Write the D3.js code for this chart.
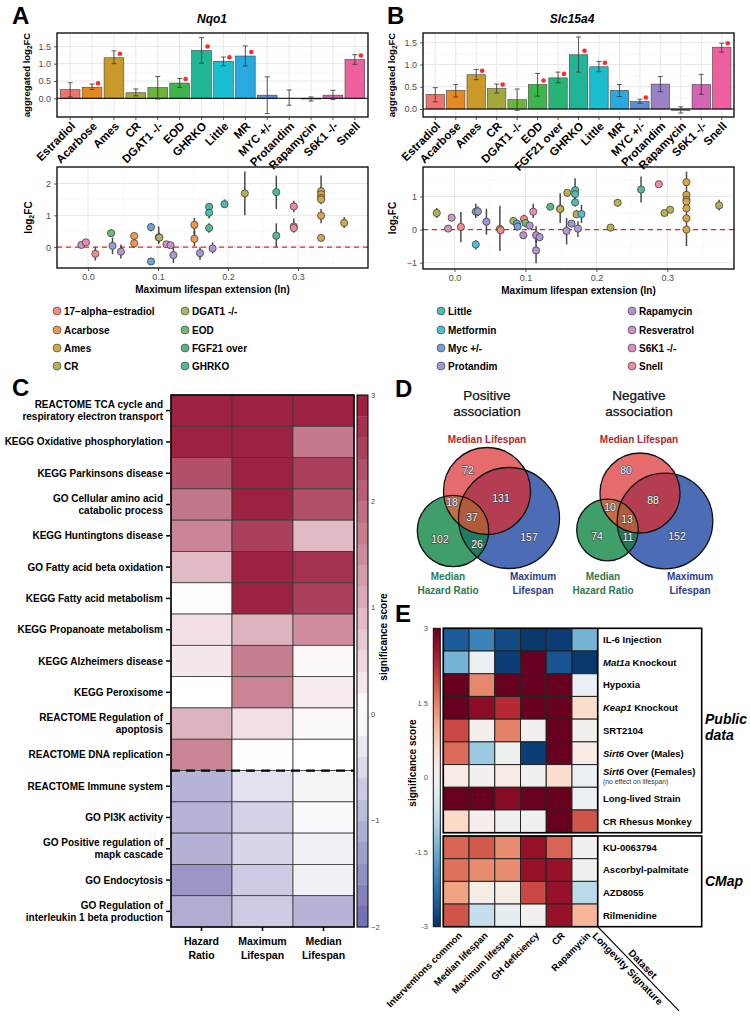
<!DOCTYPE html>
<html><head><meta charset="utf-8">
<script src="https://cdn.jsdelivr.net/npm/d3@7"></script>
<style>
body{margin:0;background:#fff}
svg{display:block}
text{font-family:"Liberation Sans",Arial,Helvetica,sans-serif}
</style>
</head><body>
<svg id="fig" width="750" height="1019"></svg>
<script>
// ================= DATA =================
// Panel A (Nqo1) bar chart
const barCatsA = ["Estradiol","Acarbose","Ames","CR","DGAT1 -/-","EOD","GHRKO","Little","MR","MYC +/-","Protandim","Rapamycin","S6K1 -/-","Snell"];
const barValA  = [0.25,0.32,1.17,0.16,0.31,0.44,1.38,1.07,1.22,0.09,0.00,-0.02,0.09,1.12];
const barLoA   = [0.04,0.25,1.00,0.07,-0.02,0.31,1.01,0.94,0.93,-0.44,-0.20,-0.08,-0.04,0.98];
const barHiA   = [0.45,0.41,1.37,0.27,0.63,0.57,1.75,1.19,1.51,0.62,0.24,0.04,0.23,1.26];
const barSigA  = [0,1,1,0,0,1,1,1,1,0,0,0,0,1];
// Panel B (Slc15a4) bar chart
const barCatsB = ["Estradiol","Acarbose","Ames","CR","DGAT1 -/-","EOD","FGF21 over","GHRKO","Little","MR","MYC +/-","Protandim","Rapamycin","S6K1 -/-","Snell"];
const barValB  = [0.33,0.42,0.77,0.46,0.21,0.55,0.70,1.22,0.95,0.42,0.17,0.56,-0.03,0.55,1.39];
const barLoB   = [0.16,0.27,0.66,0.36,-0.03,0.29,0.59,0.83,0.84,0.28,0.13,0.39,-0.09,0.33,1.28];
const barHiB   = [0.48,0.55,0.89,0.56,0.45,0.80,0.83,1.62,1.07,0.55,0.22,0.73,0.05,0.78,1.48];
const barSigB  = [0,0,1,1,0,1,1,1,1,0,1,0,0,0,1];
const barTicks = [0,0.5,1.0,1.5];

// Panel A scatter (Nqo1)
const scAx  = [-0.0095,-0.003,0.0105,0.033,0.035,0.047,0.066,0.066,0.09,0.09,0.101,0.102,0.112,0.118,0.122,0.152,0.152,0.16,0.178,0.173,0.173,0.173,0.195,0.224,0.269,0.269,0.294,0.294,0.294,0.333,0.333,0.333,0.333,0.333,0.333,0.366];
const scAy  = [0.07,0.15,-0.21,0.44,0.04,-0.14,0.35,0.12,0.63,-0.45,0.31,0.30,0.09,0.06,-0.25,0.70,0.26,-0.19,-0.04,1.27,1.08,0.60,1.35,1.69,1.73,0.36,1.28,0.65,0.60,1.76,1.66,1.55,1.50,0.99,0.29,0.76];
const scAlo = [0.0,0.08,-0.42,0.35,-0.22,-0.36,0.25,-0.02,0.50,-0.50,0.10,0.15,-0.02,-0.02,-0.50,0.40,0.03,-0.40,-0.20,1.15,0.90,0.45,1.25,1.00,1.20,0.00,1.10,0.45,0.50,1.50,1.45,1.40,1.35,0.75,0.20,0.60];
const scAhi = [0.13,0.20,0.00,0.55,0.30,0.08,0.45,0.25,0.76,-0.40,0.65,0.45,0.18,0.14,0.00,0.92,0.50,0.00,0.15,1.35,1.30,0.75,1.50,2.38,2.25,0.75,1.46,0.90,0.70,2.25,1.90,1.80,1.70,1.20,0.38,0.95];
const scAg  = ["Resveratrol","S6K1 -/-","17-alpha-estradiol","EOD","Protandim","Rapamycin","Acarbose","Acarbose","Myc +/-","Myc +/-","DGAT1 -/-","CR","S6K1 -/-","Rapamycin","Rapamycin","Acarbose","Acarbose","Protandim","Rapamycin","GHRKO","Little","GHRKO","Little","CR","GHRKO","GHRKO","Snell","Snell","Snell","Ames","Ames","Ames","Ames","Ames","Ames","Ames"];
// Panel B scatter (Slc15a4)
const scBx  = [-0.025,-0.009,-0.004,0.009,0.030,0.033,0.030,0.045,0.064,0.065,0.083,0.088,0.089,0.098,0.100,0.097,0.106,0.111,0.115,0.115,0.120,0.135,0.149,0.149,0.158,0.159,0.165,0.170,0.170,0.170,0.172,0.174,0.179,0.220,0.230,0.263,0.288,0.296,0.304,0.327,0.327,0.327,0.327,0.327,0.327,0.327,0.373];
const scBy  = [0.50,0.03,0.36,0.08,0.54,0.55,-0.45,0.24,0.02,-0.02,0.26,0.18,0.09,0.32,0.20,-0.17,0.12,0.54,-0.17,-0.63,-0.23,0.69,0.63,0.62,-0.04,1.11,0.18,1.19,1.07,0.82,0.46,0.03,0.47,0.06,0.81,1.21,1.37,0.50,0.60,1.43,1.05,0.90,0.84,0.64,0.34,0.00,0.73];
const scBlo = [0.35,-0.02,0.30,-0.38,0.35,0.40,-0.60,-0.15,-0.65,-0.10,0.15,0.10,0.03,0.15,0.10,-0.25,0.05,0.35,-0.40,-1.02,-0.35,0.62,0.20,0.50,-0.45,1.00,0.10,0.80,0.95,0.70,0.35,-0.22,0.20,-0.05,0.70,0.82,1.30,0.45,0.55,-0.50,0.95,0.80,0.75,0.55,0.25,-0.10,0.58];
const scBhi = [0.65,0.08,0.42,0.53,0.78,0.70,-0.32,0.63,0.72,0.05,0.38,0.26,0.15,0.45,0.30,-0.10,0.18,0.78,0.10,-0.30,-0.10,0.76,1.10,0.75,0.35,1.20,0.25,1.55,1.20,0.95,0.60,0.25,0.75,0.15,0.92,1.60,1.44,0.55,0.66,1.75,1.15,1.00,0.95,0.75,0.45,0.10,0.90];
const scBg  = ["CR","Resveratrol","Resveratrol","17-alpha-estradiol","EOD","Protandim","Metformin","Protandim","CR","17-alpha-estradiol","DGAT1 -/-","Myc +/-","Myc +/-","17-alpha-estradiol","EOD","Rapamycin","Rapamycin","S6K1 -/-","Rapamycin","Rapamycin","Rapamycin","FGF21 over","Acarbose","CR","Rapamycin","CR","Protandim","Little","Little","Little","CR","Rapamycin","Metformin","CR","CR","GHRKO","Snell","CR","CR","Ames","Ames","Ames","Ames","Ames","Ames","Ames","CR"];

// Legend groups
const legendGroups = ["17-alpha-estradiol","Acarbose","Ames","CR","DGAT1 -/-","EOD","FGF21 over","GHRKO","Little","Metformin","Myc +/-","Protandim","Rapamycin","Resveratrol","S6K1 -/-","Snell"];
const legendLabels = ["17\u2212alpha\u2212estradiol","Acarbose","Ames","CR","DGAT1 -/-","EOD","FGF21 over","GHRKO","Little","Metformin","Myc +/-","Protandim","Rapamycin","Resveratrol","S6K1 -/-","Snell"];
const groupColors  = ["#F08A84","#EB9A54","#D6A64C","#B8B052","#A2BB62","#6DBA72","#58B883","#52BA9C","#50BCB4","#52BDD2","#6FA3DA","#9C9AD6","#B196CF","#CB95C6","#E28BB8","#EE8BA0"];
const barColorMap = {"Estradiol":"#F0736F","Acarbose":"#E8891F","Ames":"#C99A2A","CR":"#A2A83B","DGAT1 -/-":"#6DB33F","EOD":"#3DB54A","FGF21 over":"#27B477","GHRKO":"#20B596","Little":"#1BBDD0","MR":"#2AA9E0","MYC +/-":"#5F8ED6","Protandim":"#9B82C4","Rapamycin":"#A27DC0","S6K1 -/-":"#D564B4","Snell":"#EE5FA0"};

// Panel C heatmap
const cRows = ["REACTOME TCA cycle and\nrespiratory electron transport","KEGG Oxidative phosphorylation","KEGG Parkinsons disease","GO Cellular amino acid\ncatabolic process","KEGG Huntingtons disease","GO Fatty acid beta oxidation","KEGG Fatty acid metabolism","KEGG Propanoate metabolism","KEGG Alzheimers disease","KEGG Peroxisome","REACTOME Regulation of\napoptosis","REACTOME DNA replication","REACTOME Immune system","GO PI3K activity","GO Positive regulation of\nmapk cascade","GO Endocytosis","GO Regulation of\ninterleukin 1 beta production"];
const cCols = ["Hazard\nRatio","Maximum\nLifespan","Median\nLifespan"];
const cHazard = [2.9,2.9,2.3,1.8,1.6,0.9,0.02,0.4,0.3,0.0,1.0,1.6,-1.0,-1.0,-1.05,-1.4,-1.1];
const cMaxLs  = [2.9,2.9,2.9,2.9,2.5,2.9,2.9,1.0,1.7,1.6,0.4,0.02,-0.4,-0.6,-0.55,-0.7,-0.7];
const cMedLs  = [2.9,1.75,2.5,2.3,0.9,2.7,2.5,1.5,0.1,0.25,0.1,0.0,-0.15,-0.05,-0.2,-0.2,-1.0];
const cTicks = [3,2,1,0,-1,-2];

// Panel D Venn counts
const vennSets = ["Median Lifespan","Median\nHazard Ratio","Maximum\nLifespan"];
const vennPos = {onlyMed:72, onlyHaz:102, onlyMax:157, medHaz:18, medMax:131, hazMax:26, all:37};
const vennNeg = {onlyMed:80, onlyHaz:74, onlyMax:152, medHaz:10, medMax:88, hazMax:11, all:13};

// Panel E heatmap
const eRows = ["IL-6 Injection","Mat1a Knockout","Hypoxia","Keap1 Knockout","SRT2104","Sirt6 Over (Males)","Sirt6 Over (Females)","Long-lived Strain","CR Rhesus Monkey","KU-0063794","Ascorbyl-palmitate","AZD8055","Rilmenidine"];
const eCols = ["Interventions common","Median lifespan","Maximum lifespan","GH deficiency","CR","Rapamycin"];
const eInterv = [-2.5,-1.4,3,3,2.0,1.7,0.2,3,0.55,1.75,1.65,1.2,1.9];
const eMedian = [-2.0,-0.15,1.45,2.7,0.02,-1.1,0.0,3,0.1,1.85,1.4,0.15,-0.7];
const eMaximum= [-2.7,-2.85,3,2.3,1.5,-0.08,0.2,2.75,-0.07,1.4,1.4,0.15,-0.25];
const eGH     = [-2.9,3,3,3,0.03,-2.85,-0.05,3,-0.07,2.6,2.6,2.0,0.0];
const eCR     = [-2.85,-2.6,3,3,3,3,0.5,3,3,1.75,2.6,2.6,2.6];
const eRapa   = [-1.4,-2.9,-0.2,0.5,0.02,0.2,-0.2,-0.2,1.9,-0.03,-0.05,-0.8,1.0];
const eTicks = [3,1.5,0,-1.5,-3];

// ================= DRAWING =================
const svg = d3.select("#fig");
svg.append("rect").attr("width",750).attr("height",1019).attr("fill","#fff");
const defs = svg.append("defs");
const gcol = d3.scaleOrdinal().domain(legendGroups).range(groupColors);

function label(t,x,y,size,opts={}){
  const e = svg.append("text").attr("x",x).attr("y",y).attr("font-size",size)
    .attr("font-weight",opts.weight||"bold").attr("text-anchor",opts.anchor||"start")
    .attr("fill",opts.fill||"#000").text(t);
  if(opts.italic) e.attr("font-style","italic");
  return e;
}
// panel letters
label("A",12,24,24); label("B",387,24,24); label("C",12,396,24); label("D",395,397,24); label("E",395,622,24);

function styleAxis(a){
  a.attr("font-family",null).attr("font-size",null);
  a.select(".domain").remove();
  a.selectAll(".tick line").attr("stroke","#333").attr("stroke-width",0.8);
  a.selectAll(".tick text").attr("fill","#4D4D4D").attr("font-size",9);
}

function barPanel(o){
  const x = d3.scalePoint().domain(o.cats).range([o.x0,o.x1]).padding(0.6);
  const step = x.step();
  const y = d3.scaleLinear().domain(o.ydom).range([o.y1,o.y0]);
  const g = svg.append("g");
  const minor = [-0.25,0.25,0.75,1.25,1.75].filter(v=>v>o.ydom[0]&&v<o.ydom[1]);
  g.selectAll(".mn").data(minor).join("line").attr("x1",o.x0).attr("x2",o.x1).attr("y1",d=>y(d)).attr("y2",d=>y(d)).attr("stroke","#F3F3F3").attr("stroke-width",0.6);
  g.selectAll(".mj").data(barTicks).join("line").attr("x1",o.x0).attr("x2",o.x1).attr("y1",d=>y(d)).attr("y2",d=>y(d)).attr("stroke","#E8E8E8").attr("stroke-width",1);
  g.selectAll(".vx").data(o.cats).join("line").attr("x1",d=>x(d)).attr("x2",d=>x(d)).attr("y1",o.y0).attr("y2",o.y1).attr("stroke","#E8E8E8").attr("stroke-width",1);
  g.selectAll(".bar").data(o.cats).join("rect")
    .attr("x",d=>x(d)-0.45*step).attr("width",0.9*step)
    .attr("y",(d,i)=>y(Math.max(0,o.vals[i]))).attr("height",(d,i)=>Math.abs(y(o.vals[i])-y(0)))
    .attr("fill",d=>barColorMap[d]).attr("stroke","#444").attr("stroke-width",0.6);
  g.append("line").attr("x1",o.x0).attr("x2",o.x1).attr("y1",y(0)).attr("y2",y(0)).attr("stroke","#000").attr("stroke-width",1);
  o.cats.forEach((c,i)=>{
    const cx=x(c);
    g.append("line").attr("x1",cx).attr("x2",cx).attr("y1",y(o.lo[i])).attr("y2",y(o.hi[i])).attr("stroke","#333").attr("stroke-width",0.8);
    [o.lo[i],o.hi[i]].forEach(v=>g.append("line").attr("x1",cx-2.5).attr("x2",cx+2.5).attr("y1",y(v)).attr("y2",y(v)).attr("stroke","#333").attr("stroke-width",0.8));
    if(o.sig[i]) g.append("circle").attr("cx",cx+6).attr("cy",y(o.vals[i])-4).attr("r",2.3).attr("fill","#FF2A2A");
  });
  g.append("rect").attr("x",o.x0).attr("y",o.y0).attr("width",o.x1-o.x0).attr("height",o.y1-o.y0).attr("fill","none").attr("stroke","#000").attr("stroke-width",1.3);
  const ay = g.append("g").attr("transform",`translate(${o.x0},0)`).call(d3.axisLeft(y).tickValues(barTicks).tickFormat(d3.format(".1f")).tickSize(3));
  styleAxis(ay);
  o.cats.forEach(c=>{
    g.append("line").attr("x1",x(c)).attr("x2",x(c)).attr("y1",o.y1).attr("y2",o.y1+3).attr("stroke","#333").attr("stroke-width",0.8);
    g.append("text").attr("transform",`translate(${x(c)+3},${o.y1+7}) rotate(-45)`).attr("text-anchor","end").attr("dy","0.35em")
      .attr("font-size",11.5).attr("font-weight","bold").text(c);
  });
  g.append("text").attr("transform",`translate(${o.ytx},${(o.y0+o.y1)/2}) rotate(-90)`).attr("text-anchor","middle")
    .attr("font-size",9.5).attr("font-weight","bold").html("aggregated log<tspan font-size='6.5' dy='2'>2</tspan><tspan dy='-2'>FC</tspan>");
  g.append("text").attr("x",o.titleX).attr("y",23).attr("text-anchor","middle").attr("font-size",12).attr("font-weight","bold").attr("font-style","italic").text(o.title);
}

barPanel({cats:barCatsA,vals:barValA,lo:barLoA,hi:barHiA,sig:barSigA,x0:57,x1:368,y0:33,y1:117,ydom:[-0.54,1.885],ytx:30,title:"Nqo1",titleX:212});
barPanel({cats:barCatsB,vals:barValB,lo:barLoB,hi:barHiB,sig:barSigB,x0:423,x1:734,y0:33,y1:117,ydom:[-0.18,1.71],ytx:395,title:"Slc15a4",titleX:572});

function scatterPanel(o){
  const x = d3.scaleLinear().domain(o.xdom).range([o.x0,o.x1]);
  const y = d3.scaleLinear().domain(o.ydom).range([o.y1,o.y0]);
  const g = svg.append("g");
  const xMaj=[0,0.1,0.2,0.3], xMin=[0.05,0.15,0.25,0.35];
  const yMin=[-1.5,-0.5,0.5,1.5,2.5].filter(v=>v>o.ydom[0]&&v<o.ydom[1]);
  g.selectAll(".a").data(xMin).join("line").attr("x1",d=>x(d)).attr("x2",d=>x(d)).attr("y1",o.y0).attr("y2",o.y1).attr("stroke","#F3F3F3").attr("stroke-width",0.6);
  g.selectAll(".b").data(yMin).join("line").attr("y1",d=>y(d)).attr("y2",d=>y(d)).attr("x1",o.x0).attr("x2",o.x1).attr("stroke","#F3F3F3").attr("stroke-width",0.6);
  g.selectAll(".c").data(xMaj).join("line").attr("x1",d=>x(d)).attr("x2",d=>x(d)).attr("y1",o.y0).attr("y2",o.y1).attr("stroke","#E8E8E8").attr("stroke-width",1);
  g.selectAll(".d").data(o.yticks).join("line").attr("y1",d=>y(d)).attr("y2",d=>y(d)).attr("x1",o.x0).attr("x2",o.x1).attr("stroke","#E8E8E8").attr("stroke-width",1);
  g.append("line").attr("x1",o.x0).attr("x2",o.x1).attr("y1",y(0)).attr("y2",y(0)).attr("stroke","#FF1A1A").attr("stroke-width",1.3).attr("stroke-dasharray","5,4");
  o.xs.forEach((v,i)=>g.append("line").attr("x1",x(v)).attr("x2",x(v)).attr("y1",y(o.lo[i])).attr("y2",y(o.hi[i])).attr("stroke","#2a2a2a").attr("stroke-opacity",0.85).attr("stroke-width",1.5));
  g.selectAll(".pt").data(o.xs).join("circle").attr("cx",d=>x(d)).attr("cy",(d,i)=>y(o.ys[i])).attr("r",3.6)
    .attr("fill",(d,i)=>gcol(o.gs[i])).attr("stroke","#333").attr("stroke-width",0.7);
  g.append("rect").attr("x",o.x0).attr("y",o.y0).attr("width",o.x1-o.x0).attr("height",o.y1-o.y0).attr("fill","none").attr("stroke","#000").attr("stroke-width",1.3);
  const ay = g.append("g").attr("transform",`translate(${o.x0},0)`).call(d3.axisLeft(y).tickValues(o.yticks).tickFormat(d=>d<0?"\u2212"+Math.abs(d):d).tickSize(3));
  styleAxis(ay);
  const ax = g.append("g").attr("transform",`translate(0,${o.y1})`).call(d3.axisBottom(x).tickValues(xMaj).tickFormat(d3.format(".1f")).tickSize(3));
  styleAxis(ax);
  g.append("text").attr("x",(o.x0+o.x1)/2).attr("y",o.y1+25).attr("text-anchor","middle").attr("font-size",10).attr("font-weight","bold").text("Maximum lifespan extension (ln)");
  g.append("text").attr("transform",`translate(${o.ytx},${(o.y0+o.y1)/2}) rotate(-90)`).attr("text-anchor","middle")
    .attr("font-size",10).attr("font-weight","bold").html("log<tspan font-size='7' dy='2'>2</tspan><tspan dy='-2'>FC</tspan>");
}
scatterPanel({xs:scAx,ys:scAy,lo:scAlo,hi:scAhi,gs:scAg,x0:57,x1:368,y0:167,y1:268,xdom:[-0.0443,0.4],ydom:[-0.656,2.52],yticks:[0,1,2],ytx:32});
scatterPanel({xs:scBx,ys:scBy,lo:scBlo,hi:scBhi,gs:scBg,x0:423,x1:734,y0:167,y1:269,xdom:[-0.0444,0.394],ydom:[-1.19,1.89],yticks:[-1,0,1],ytx:396});

// legend
const legColX=[57,185,441,632], legRowY=[311,330,348,366];
legendGroups.forEach((gname,i)=>{
  const cx=legColX[Math.floor(i/4)], cy=legRowY[i%4];
  svg.append("circle").attr("cx",cx).attr("cy",cy).attr("r",4).attr("fill",gcol(gname)).attr("stroke","#333").attr("stroke-width",0.6);
  svg.append("text").attr("x",cx+7).attr("y",cy).attr("dy","0.35em").attr("font-size",10).attr("font-weight","bold").text(legendLabels[i]);
});

// ---------- Panel C ----------
(function(){
  const x0=171,x1=354,y0=395,y1=927;
  const cx=d3.scaleBand().domain(cCols).range([x0,x1]);
  const cy=d3.scaleBand().domain(cRows).range([y0,y1]);
  const pos=d3.interpolateRgb("#FFFFFF","#9A1A3B"), neg=d3.interpolateRgb("#FFFFFF","#6F6AAE");
  const col=v=>v>=0?pos(Math.min(v,3)/3):neg(Math.min(-v,2)/2);
  const cols=[cHazard,cMaxLs,cMedLs];
  const g=svg.append("g");
  cols.forEach((arr,j)=>arr.forEach((v,i)=>{
    g.append("rect").attr("x",cx(cCols[j])).attr("y",cy(cRows[i])).attr("width",cx.bandwidth()).attr("height",cy.bandwidth())
      .attr("fill",col(v)).attr("stroke","#3a3a3a").attr("stroke-width",0.8);
  }));
  g.append("line").attr("x1",x0).attr("x2",x1).attr("y1",cy(cRows[12])).attr("y2",cy(cRows[12])).attr("stroke","#000").attr("stroke-width",2.2).attr("stroke-dasharray","9,6");
  g.append("rect").attr("x",x0).attr("y",y0).attr("width",x1-x0).attr("height",y1-y0).attr("fill","none").attr("stroke","#000").attr("stroke-width",1.5);
  cRows.forEach(r=>{
    const yc=cy(r)+cy.bandwidth()/2;
    g.append("line").attr("x1",166).attr("x2",170).attr("y1",yc).attr("y2",yc).attr("stroke","#000").attr("stroke-width",1.5);
    const lines=r.split("\n");
    const t=g.append("text").attr("text-anchor","end").attr("font-size",10).attr("font-weight","bold");
    lines.forEach((l,k)=>t.append("tspan").attr("x",163).attr("y",yc+(k-(lines.length-1)/2)*12.3).attr("dy","0.35em").text(l));
  });
  cCols.forEach(c=>{
    const xc=cx(c)+cx.bandwidth()/2;
    g.append("line").attr("x1",xc).attr("x2",xc).attr("y1",y1).attr("y2",y1+4).attr("stroke","#000").attr("stroke-width",1.5);
    const t=g.append("text").attr("text-anchor","middle").attr("font-size",10.5).attr("font-weight","bold");
    c.split("\n").forEach((l,k)=>t.append("tspan").attr("x",xc).attr("y",945+k*13.5).text(l));
  });
  // colorbar (stepped)
  const cb=d3.scaleLinear().domain([-2,3]).range([y1,y0]);
  const steps=d3.range(-2,3,0.2);
  steps.forEach(s=>g.append("rect").attr("x",357).attr("y",cb(s+0.2)).attr("width",11).attr("height",cb(s)-cb(s+0.2)+0.3).attr("fill",col(s+0.1)));
  g.append("rect").attr("x",357).attr("y",y0).attr("width",11).attr("height",y1-y0).attr("fill","none").attr("stroke","#000").attr("stroke-width",1);
  cTicks.forEach(t=>g.append("text").attr("x",371).attr("y",cb(t)).attr("dy","0.35em").attr("font-size",7.5).attr("fill","#444").text(t<0?"\u2212"+Math.abs(t):t));
  g.append("text").attr("transform","translate(387,637) rotate(-90)").attr("text-anchor","middle").attr("font-size",10).attr("font-weight","bold").text("significance score");
})();

// ---------- Panel D ----------
function venn(id,cfg,cnt){
  const g=svg.append("g");
  const C={R:cfg.R,G:cfg.G,B:cfg.B};
  Object.keys(C).forEach(k=>defs.append("clipPath").attr("id",id+k).append("circle").attr("cx",C[k][0]).attr("cy",C[k][1]).attr("r",C[k][2]));
  const circ=(sel,k,fill)=>sel.append("circle").attr("cx",C[k][0]).attr("cy",C[k][1]).attr("r",C[k][2]).attr("fill",fill);
  circ(g,"B","#4C6CB6"); circ(g,"R","#E66B6C"); circ(g,"G","#3F9E69");
  circ(g.append("g").attr("clip-path",`url(#${id}R)`),"B","#B43D51");
  circ(g.append("g").attr("clip-path",`url(#${id}R)`),"G","#C66E41");
  circ(g.append("g").attr("clip-path",`url(#${id}B)`),"G","#207B5F");
  circ(g.append("g").attr("clip-path",`url(#${id}R)`).append("g").attr("clip-path",`url(#${id}B)`),"G","#B25B3B");
  ["R","B","G"].forEach(k=>g.append("circle").attr("cx",C[k][0]).attr("cy",C[k][1]).attr("r",C[k][2]).attr("fill","none").attr("stroke","#111").attr("stroke-width",1.3));
  const keys=["onlyMed","medMax","medHaz","all","onlyHaz","hazMax","onlyMax"];
  keys.forEach(k=>g.append("text").attr("x",cfg.t[k][0]).attr("y",cfg.t[k][1]).attr("dy","0.35em").attr("text-anchor","middle")
    .attr("font-size",10.5).attr("fill","#FFFFFF").attr("stroke","#3a3a3a").attr("stroke-width",1.1).attr("paint-order","stroke").attr("stroke-linejoin","round").text(cnt[k]));
  g.append("text").attr("x",cfg.hx).attr("y",400).attr("text-anchor","middle").attr("font-size",13.5).attr("fill","#111").attr("stroke","#111").attr("stroke-width",0.25).text(cfg.head[0]);
  g.append("text").attr("x",cfg.hx).attr("y",416).attr("text-anchor","middle").attr("font-size",13.5).attr("fill","#111").attr("stroke","#111").attr("stroke-width",0.25).text(cfg.head[1]);
  const lab=(txt,x,y,fill)=>g.append("text").attr("x",x).attr("y",y).attr("text-anchor","middle").attr("font-size",10).attr("font-weight","bold")
    .attr("fill",fill).attr("stroke","#fff").attr("stroke-width",1.5).attr("paint-order","stroke").text(txt);
  lab(vennSets[0],cfg.hx,443,"#B0282C");
  vennSets[1].split("\n").forEach((l,k)=>lab(l,cfg.gx,580+k*13.5,"#2D7A4E"));
  vennSets[2].split("\n").forEach((l,k)=>lab(l,cfg.bx,580+k*13.5,"#2B3D8C"));
}
venn("vp",{R:[487,491,43.5],G:[453,531,35.7],B:[509,518,50.5],hx:487,gx:448,bx:533,head:["Positive","association"],
  t:{onlyMed:[468,470],medMax:[501,498],medHaz:[452,502],all:[472,517],onlyHaz:[440,539],hazMax:[477,544],onlyMax:[529,537]}},vennPos);
venn("vn",{R:[640,493,40],G:[607.5,530,30.8],B:[665,521,47.8],hx:639,gx:603,bx:690,head:["Negative","association"],
  t:{onlyMed:[626,470],medMax:[653,500],medHaz:[610,507],all:[627,519],onlyHaz:[597,536],hazMax:[628,537],onlyMax:[677,536]}},vennNeg);

// ---------- Panel E ----------
(function(){
  const x0=443.3,x1=597.7;
  const ex=d3.scaleBand().domain(eCols).range([x0,x1]);
  const ePub=d3.scaleBand().domain(eRows.slice(0,9)).range([628.3,832.7]);
  const eCm=d3.scaleBand().domain(eRows.slice(9)).range([836,926.7]);
  const ey=r=>eRows.indexOf(r)<9?ePub(r):eCm(r);
  const rh=ePub.bandwidth();
  const col=v=>d3.interpolateRdBu((3-v)/6);
  const g=svg.append("g");
  const cols=[eInterv,eMedian,eMaximum,eGH,eCR,eRapa];
  cols.forEach((arr,j)=>arr.forEach((v,i)=>g.append("rect").attr("x",ex(eCols[j])).attr("y",ey(eRows[i])).attr("width",ex.bandwidth()).attr("height",rh)
     .attr("fill",col(v)).attr("stroke","#222").attr("stroke-width",1)));
  [[628.3,832.7],[836,926.7]].forEach(([a,b])=>{
    g.append("rect").attr("x",x0).attr("y",a).attr("width",701.7-x0).attr("height",b-a).attr("fill","none").attr("stroke","#000").attr("stroke-width",1.6);
    g.append("line").attr("x1",x1).attr("x2",x1).attr("y1",a).attr("y2",b).attr("stroke","#000").attr("stroke-width",1.6);
  });
  const italicPart={"Mat1a Knockout":"Mat1a","Keap1 Knockout":"Keap1","Sirt6 Over (Males)":"Sirt6","Sirt6 Over (Females)":"Sirt6"};
  eRows.forEach(r=>{
    let yc=ey(r)+rh/2;
    if(r==="Sirt6 Over (Females)") yc-=4;
    const t=g.append("text").attr("x",603).attr("y",yc).attr("dy","0.35em").attr("font-size",9.5).attr("font-weight","bold");
    if(italicPart[r]){
      t.append("tspan").attr("font-style","italic").text(italicPart[r]);
      t.append("tspan").text(r.slice(italicPart[r].length));
    } else t.text(r);
    if(r==="Sirt6 Over (Females)") g.append("text").attr("x",603).attr("y",yc+10).attr("dy","0.35em").attr("font-size",6.8).attr("fill","#333").text("(no effect on lifespan)");
  });
  g.append("text").attr("x",705).attr("y",724).attr("font-size",14).attr("font-weight","bold").attr("font-style","italic").text("Public");
  g.append("text").attr("x",705).attr("y",740).attr("font-size",14).attr("font-weight","bold").attr("font-style","italic").text("data");
  g.append("text").attr("x",705).attr("y",886).attr("font-size",14).attr("font-weight","bold").attr("font-style","italic").text("CMap");
  eCols.forEach(c=>{
    const xc=ex(c)+ex.bandwidth()/2;
    g.append("text").attr("transform",`translate(${xc+4},${926.7+7}) rotate(-45)`).attr("text-anchor","end").attr("dy","0.35em")
      .attr("font-size",9.5).attr("font-weight","bold").text(c);
  });
  const dg=g.append("g").attr("transform",`translate(${x1},926.7) rotate(46)`);
  dg.append("line").attr("x1",0).attr("x2",117).attr("y1",0).attr("y2",0).attr("stroke","#000").attr("stroke-width",1.2);
  dg.append("text").attr("x",40).attr("y",-3).attr("font-size",10).attr("font-weight","bold").text("Dataset");
  dg.append("text").attr("x",3).attr("y",11).attr("font-size",10).attr("font-weight","bold").text("Longevity Signature");
  // colorbar
  const grad=defs.append("linearGradient").attr("id","rdbu").attr("x1",0).attr("x2",0).attr("y1",0).attr("y2",1);
  d3.range(0,1.0001,0.05).forEach(t=>grad.append("stop").attr("offset",t).attr("stop-color",d3.interpolateRdBu(t)));
  g.append("rect").attr("x",433.3).attr("y",628.3).attr("width",7).attr("height",926.7-628.3).attr("fill","url(#rdbu)").attr("stroke","#111").attr("stroke-width",1);
  const cb=d3.scaleLinear().domain([-3,3]).range([926.7,628.3]);
  eTicks.forEach(t=>g.append("text").attr("x",428).attr("y",cb(t)).attr("dy","0.35em").attr("text-anchor","end").attr("font-size",7.5).attr("fill","#555").text(t));
  g.append("text").attr("transform","translate(416,763) rotate(-90)").attr("text-anchor","middle").attr("font-size",10).attr("font-weight","bold").text("significance score");
  defs.append("clipPath").attr("id","eclip").append("rect").attr("x",400).attr("y",598).attr("width",30).attr("height",30);
  g.append("text").attr("clip-path","url(#eclip)").attr("transform","translate(416,563) rotate(-90)").attr("text-anchor","middle").attr("font-size",10).attr("font-weight","bold").text("significance score");
})();
</script>
</body></html>
